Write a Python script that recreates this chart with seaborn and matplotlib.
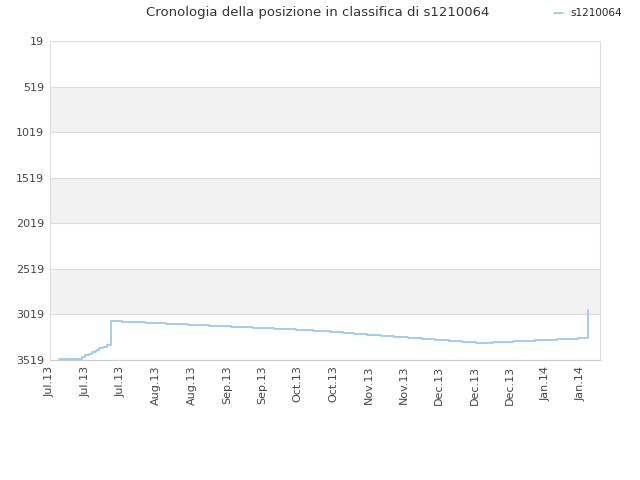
import matplotlib
matplotlib.use('Agg')
import matplotlib.pyplot as plt
import seaborn as sns
import pandas as pd

# position of each point on the x axis (in tick units) and its rank
x_pos = [0.25, 0.79, 0.9, 1.0, 1.1, 1.2, 1.3, 1.4, 1.5, 1.6, 1.72, 1.72, 2.03, 2.68,
         3.28, 3.90, 4.49, 5.11, 5.73, 6.33, 6.95, 7.43, 7.91, 8.28, 8.59, 8.95,
         9.35, 9.72, 10.11, 10.51, 10.88, 11.27, 11.64, 12.03, 12.51, 13.08, 13.70,
         14.32, 14.92, 15.20, 15.20]
rank = [3507, 3507, 3488, 3467, 3448, 3428, 3409, 3390, 3371, 3352, 3332, 3091, 3102, 3113,
        3124, 3131, 3142, 3153, 3167, 3178, 3186, 3200, 3208, 3219, 3230, 3241,
        3255, 3266, 3280, 3291, 3302, 3313, 3321, 3328, 3318, 3307, 3296,
        3285, 3274, 3274, 2970]

tick_labels = ['Jul.13', 'Jul.13', 'Jul.13', 'Aug.13', 'Aug.13', 'Sep.13', 'Sep.13',
               'Oct.13', 'Oct.13', 'Nov.13', 'Nov.13', 'Dec.13', 'Dec.13', 'Dec.13',
               'Jan.14', 'Jan.14']
y_ticks = [19, 519, 1019, 1519, 2019, 2519, 3019, 3519]

df = pd.DataFrame({'x': x_pos, 'rank': rank})

sns.set_style('white')
plt.rcParams['font.family'] = ['DejaVu Sans']

fig = plt.figure(figsize=(6.4, 4.8), dpi=100)
ax = fig.add_axes([0.078, 0.25, 0.8595, 0.6646])

# alternating bands
for i in range(len(y_ticks) - 1):
    if i % 2 == 1:
        ax.axhspan(y_ticks[i], y_ticks[i + 1], color='#f2f2f2', zorder=0, lw=0)
for yt in y_ticks:
    ax.axhline(yt, color='#dddddd', lw=0.8, zorder=1)

sns.lineplot(data=df, x='x', y='rank', ax=ax, estimator=None, sort=False,
             drawstyle='steps-post', color='#99c8f5', lw=1.3, label='s1210064', zorder=3)

ax.set_xlim(0, 15.54)
ax.set_ylim(3519, 19)
ax.set_yticks(y_ticks)
ax.set_yticklabels([str(v) for v in y_ticks], fontsize=8, color='#444444')
ax.set_xticks(range(len(tick_labels)))
ax.set_xticklabels(tick_labels, rotation=90, fontsize=8, color='#444444')
ax.tick_params(axis='both', length=0, pad=4)
ax.set_xlabel('')
ax.set_ylabel('')
for s in ax.spines.values():
    s.set_color('#dddddd')
    s.set_linewidth(0.8)
ax.spines['bottom'].set_color('#cccccc')

ax.legend(loc='upper right', bbox_to_anchor=(1.048, 1.115), frameon=False, fontsize=7.5,
          handlelength=0.9, handletextpad=0.7, borderaxespad=0)

fig.text(0.497, 0.988, 'Cronologia della posizione in classifica di s1210064',
         ha='center', va='top', fontsize=9.5, color='#333333')

fig.savefig('out.png', dpi=100)
